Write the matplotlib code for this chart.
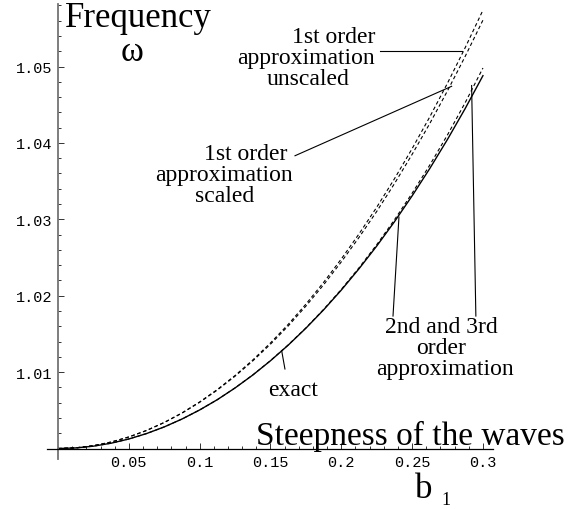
import matplotlib
matplotlib.use("Agg")
import matplotlib.pyplot as plt
from matplotlib.ticker import FixedLocator, FixedFormatter, MultipleLocator

# steepness of the waves b1
steepness = [0.0, 0.0125, 0.025, 0.0375, 0.05, 0.0625, 0.075, 0.0875, 0.1, 0.1125,
             0.125, 0.1375, 0.15, 0.1625, 0.175, 0.1875, 0.2, 0.2125, 0.225, 0.2375,
             0.25, 0.2625, 0.275, 0.2875, 0.3]
# frequency omega
omega_exact = [1.0, 1.00008, 1.00031, 1.00070, 1.00125, 1.00196, 1.00283, 1.00386,
               1.00505, 1.00640, 1.00793, 1.00962, 1.01149, 1.01353, 1.01575, 1.01815,
               1.02074, 1.02353, 1.02650, 1.02968, 1.03307, 1.03666, 1.04047, 1.04451,
               1.04880]
omega_2nd_3rd = [1.0, 1.00008, 1.00031, 1.00070, 1.00125, 1.00196, 1.00283, 1.00386,
                 1.00505, 1.00640, 1.00794, 1.00963, 1.01151, 1.01356, 1.01579, 1.01821,
                 1.02083, 1.02366, 1.02668, 1.02993, 1.03341, 1.03711, 1.04106, 1.04528,
                 1.04980]
omega_1st_scaled = [1.0, 1.00009, 1.00038, 1.00085, 1.00151, 1.00236, 1.00340, 1.00463,
                    1.00605, 1.00766, 1.00947, 1.01147, 1.01366, 1.01604, 1.01864, 1.02143,
                    1.02443, 1.02763, 1.03103, 1.03466, 1.03850, 1.04255, 1.04683, 1.05134,
                    1.05607]
omega_1st_unscaled = [1.0, 1.00009, 1.00038, 1.00085, 1.00152, 1.00237, 1.00342, 1.00466,
                      1.00610, 1.00773, 1.00956, 1.01159, 1.01382, 1.01625, 1.01890, 1.02175,
                      1.02481, 1.02809, 1.03158, 1.03530, 1.03925, 1.04342, 1.04783, 1.05248,
                      1.05737]

xticks = [0.05, 0.1, 0.15, 0.2, 0.25, 0.3]
xtick_labels = ["0.05", "0.1", "0.15", "0.2", "0.25", "0.3"]
yticks = [1.01, 1.02, 1.03, 1.04, 1.05]
ytick_labels = ["1.01", "1.02", "1.03", "1.04", "1.05"]

W, H = 576, 510
fig = plt.figure(figsize=(W / 100, H / 100), dpi=100)
# axes box in pixels: left 47, right 493, top 5, bottom 460
ax = fig.add_axes([47 / W, 1 - 460 / H, 446 / W, 455 / H])
ax.set_xlim(-0.0078, 0.3071)
ax.set_ylim(0.99863, 1.05818)

dash = (0, (3.2, 2.4))
ax.plot(steepness, omega_exact, color="black", lw=1.0)
ax.plot(steepness, omega_2nd_3rd, color="black", lw=0.8, linestyle=dash)
ax.plot(steepness, omega_1st_scaled, color="black", lw=0.8, linestyle=dash)
ax.plot(steepness, omega_1st_unscaled, color="black", lw=0.8, linestyle=dash)

# axes through the origin, Mathematica style
for s in ["top", "right"]:
    ax.spines[s].set_visible(False)
ax.spines["left"].set_position(("data", 0))
ax.spines["bottom"].set_position(("data", 1.0))
ax.spines["left"].set_color("0.45")
ax.spines["left"].set_linewidth(1.3)
ax.spines["bottom"].set_linewidth(0.9)

ax.xaxis.set_major_locator(FixedLocator(xticks))
ax.xaxis.set_major_formatter(FixedFormatter(xtick_labels))
ax.yaxis.set_major_locator(FixedLocator(yticks))
ax.yaxis.set_major_formatter(FixedFormatter(ytick_labels))
ax.xaxis.set_minor_locator(MultipleLocator(0.01))
ax.yaxis.set_minor_locator(MultipleLocator(0.002))
ax.tick_params(which="both", direction="in", width=0.7, color="0.2")
ax.tick_params(which="major", length=4)
ax.tick_params(which="minor", length=2.2)
ax.tick_params(axis="x", pad=5)
ax.tick_params(axis="y", pad=4)
for lab in ax.get_xticklabels() + ax.get_yticklabels():
    lab.set_family("Liberation Mono")
    lab.set_fontsize(11)

serif = "Liberation Serif"
big = 25
small = 17


def label(x, y, s, size, ha="left"):
    # position given in pixels of the picture (y from top)
    fig.text(x / W, 1 - y / H, s, fontsize=size, family=serif, ha=ha, va="baseline")


label(65, 27, "Frequency", big)
label(132, 61, "ω", big, ha="center")
label(256, 445, "Steepness of the waves", 24)
label(415, 498, "b", big)
label(441, 505, "1", 13)

label(375, 43, "1st order", small, ha="right")
label(375, 64, "approximation", small, ha="right")
label(308, 85, "unscaled", small, ha="center")

label(287, 160, "1st order", small, ha="right")
label(224, 181, "approximation", small, ha="center")
label(225, 202, "scaled", small, ha="center")

label(268, 396, "exact", small)

label(441, 333, "2nd and 3rd", small, ha="center")
label(441, 354, "order", small, ha="center")
label(445, 375, "approximation", small, ha="center")

# pointer lines in data coordinates
pointers = [
    ((0.2273, 0.2850), (1.05207, 1.05207)),
    ((0.1673, 0.2779), (1.03832, 1.04741)),
    ((0.1579, 0.1602), (1.01280, 1.01041)),
    ((0.2365, 0.2407), (1.01734, 1.03030)),
    ((0.2950, 0.2920), (1.01734, 1.04751)),
]
for xs, ys in pointers:
    ax.plot(xs, ys, color="black", lw=0.8, clip_on=False)

fig.savefig("out.png", dpi=100)
